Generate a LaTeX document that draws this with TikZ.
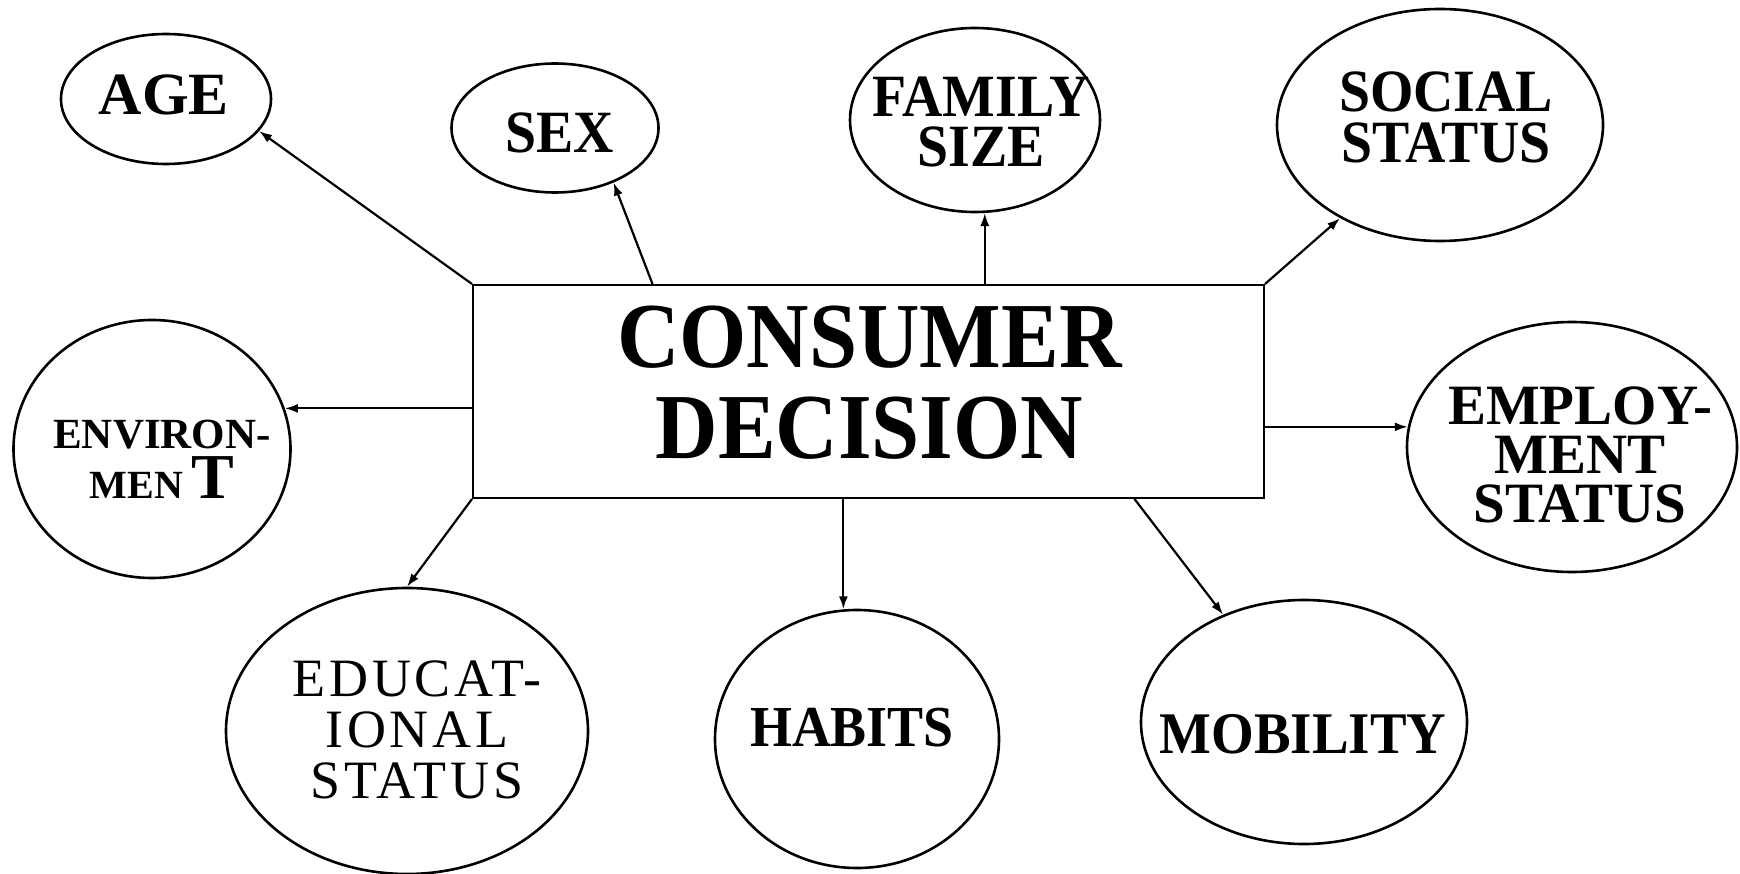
\documentclass[tikz,border=0pt]{standalone}
\usepackage{fontspec}
\setmainfont{Liberation Serif}
\newfontfamily\narrowserif[FakeStretch=0.93]{Liberation Serif}
\newfontfamily\spacedserif[LetterSpace=7]{Liberation Serif}
\usetikzlibrary{shapes.geometric,arrows.meta}

\tikzset{
  factor/.style={draw,ellipse,line width=2.6pt,inner sep=0pt},
  factortext/.style={align=center,font=\bfseries},
  link/.style={-{Latex[length=13pt,width=9pt]},line width=2.2pt},
}

\begin{document}
\begin{tikzpicture}[x=1pt,y=-1pt]
    \useasboundingbox (0,0) rectangle (1740,874);

    % the decision in the middle
    \node[draw,line width=2pt,minimum width=791pt,minimum height=213pt,
          label={[factortext,font=\narrowserif\bfseries\fontsize{93}{91}\selectfont,xshift=1pt,yshift=9pt]center:CONSUMER\\DECISION}]
        (decision) at (868.5,391.5) {};

    % factors round it
    \node[factor,minimum width=210pt,minimum height=130pt,
          label={[factortext,font=\bfseries\fontsize{60}{51}\selectfont,xshift=-2pt,yshift=4pt]center:AGE}]
        (age) at (166,99) {};
    \node[factor,minimum width=207pt,minimum height=129pt,
          label={[factortext,font=\narrowserif\bfseries\fontsize{60}{51}\selectfont,xshift=5pt,yshift=-5pt]center:SEX}]
        (sex) at (555,128) {};
    \node[factor,minimum width=250pt,minimum height=184pt,
          label={[factortext,font=\narrowserif\bfseries\fontsize{60}{50}\selectfont,xshift=6pt,yshift=-2pt]center:FAMILY\\SIZE}]
        (family) at (975,120) {};
    \node[factor,minimum width=326pt,minimum height=232pt,
          label={[factortext,font=\narrowserif\bfseries\fontsize{60}{51}\selectfont,xshift=6pt,yshift=8pt]center:SOCIAL\\STATUS}]
        (social) at (1440,125) {};
    \node[factor,minimum width=277pt,minimum height=258pt,
          label={[factortext,font=\bfseries\fontsize{43}{50}\selectfont,xshift=10pt,yshift=-10pt]center:ENVIRON-\\{\fontsize{40}{40}\selectfont MEN}\hspace{8pt}{\fontsize{64}{64}\selectfont T}}]
        (environ) at (152,449) {};
    \node[factor,minimum width=330pt,minimum height=250pt,
          label={[factortext,font=\bfseries\fontsize{57}{49}\selectfont,xshift=8pt,yshift=-8pt]center:EMPLOY-\\MENT\\STATUS}]
        (employ) at (1572,447) {};
    \node[factor,minimum width=362pt,minimum height=286pt,
          label={[factortext,font=\spacedserif\fontsize{54}{51}\selectfont,xshift=10pt,yshift=1pt]center:EDUCAT-\\IONAL\\STATUS}]
        (educ) at (407,731) {};
    \node[factor,minimum width=284pt,minimum height=258pt,
          label={[factortext,font=\narrowserif\bfseries\fontsize{58}{51}\selectfont,xshift=-5pt,yshift=11pt]center:HABITS}]
        (habits) at (857,739) {};
    \node[factor,minimum width=326pt,minimum height=244pt,
          label={[factortext,font=\narrowserif\bfseries\fontsize{59}{51}\selectfont,xshift=-1pt,yshift=-12pt]center:MOBILITY}]
        (mobility) at (1304,722) {};

    % arrows out of the box
    \draw[link] (decision.north west) -- (age.-19);
    \draw[link] ([xshift=-216pt]decision.north) -- (sex.-43);
    \draw[link] (decision.north -| family.-84) -- (family.-84);
    \draw[link] (decision.north east) -- (social.-137);
    \draw[link] (decision.west |- environ.17) -- (environ.17);
    \draw[link] (decision.east |- employ.173) -- (employ.173);
    \draw[link] (decision.south west) -- (educ.north);
    \draw[link] (decision.south -| habits.96) -- (habits.96);
    \draw[link] ([xshift=266pt]decision.south) -- (mobility.127);
\end{tikzpicture}
\end{document}
